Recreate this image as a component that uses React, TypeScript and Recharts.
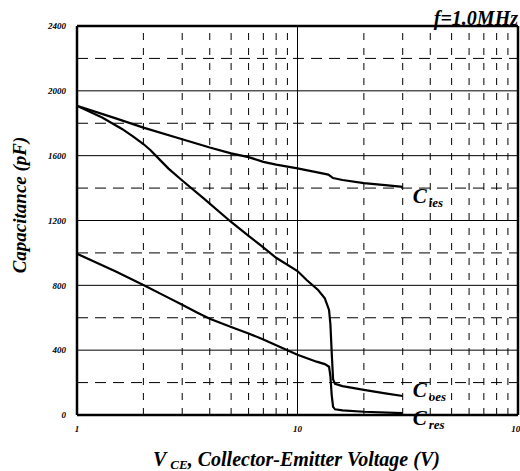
import React from "react";
import { LineChart, Line, XAxis, YAxis, ReferenceLine, ReferenceDot } from "recharts";

// capacitance vs collector-emitter voltage, f = 1.0 MHz
const ciesV = [1, 1.5, 2, 3, 4, 5, 6, 7, 8, 10, 12, 13.8, 14.5, 16, 20, 25, 30];
const ciesC = [1907, 1830, 1773, 1701, 1650, 1614, 1591, 1562, 1545, 1522, 1500, 1483, 1462, 1450, 1431, 1418, 1407];

const coesV = [1, 1.3, 1.6, 1.8, 2, 2.15, 2.3, 2.6, 3, 3.73, 5, 6, 6.77, 8, 10, 11, 12.4, 13.3, 13.9, 14.1, 14.3, 14.5, 14.8, 16, 20, 25, 30];
const coesC = [1907, 1835, 1765, 1718, 1672, 1635, 1594, 1520, 1447, 1340, 1191, 1105, 1049, 970, 888, 833, 771, 720, 648, 560, 380, 220, 192, 178, 155, 133, 117];

const cresV = [1, 1.5, 2, 2.5, 3, 3.5, 4, 5, 6, 7, 9, 10, 12.2, 13.3, 13.9, 14.1, 14.3, 14.5, 14.8, 16, 20, 30];
const cresC = [995, 885, 802, 735, 680, 633, 594, 543, 503, 466, 400, 372, 329, 314, 298, 240, 120, 50, 35, 28, 20, 12];

const xTicks = [1, 10, 100];
const yTicks = [0, 400, 800, 1200, 1600, 2000, 2400];
const xMinor = [2, 3, 4, 5, 6, 7, 8, 9, 20, 30, 40, 50, 60, 70, 80, 90];
const yMinor = [200, 600, 1000, 1400, 1800, 2200];
const yMajorInner = [400, 800, 1200, 1600, 2000];

const toPoints = (xs: number[], ys: number[]) => xs.map((x, i) => ({ x, y: ys[i] }));

const FONT = "'Liberation Serif', 'Times New Roman', serif";

const tickStyle = { fontFamily: FONT, fontSize: 9, fontWeight: 700, fontStyle: "italic", fill: "#000" };

const curveLabel = (sub: string, dx: number, dy: number) => (props: any) => {
  const { viewBox } = props;
  const x = viewBox.x + viewBox.width / 2 + dx;
  const y = viewBox.y + viewBox.height / 2 + dy;
  return (
    <text x={x} y={y} fontFamily={FONT} fontWeight={700} fontStyle="italic" fill="#000">
      <tspan fontSize={21}>C</tspan>
      <tspan fontSize={13} dx={2} dy={4}>{sub}</tspan>
    </text>
  );
};

export default function App() {
  return (
    <div style={{ position: "absolute", left: 0, top: 0, width: 520, height: 471, background: "#fff" }}>
      <LineChart width={520} height={471} margin={{ top: 26, right: 2, bottom: 36, left: 17 }}>
        <XAxis
          dataKey="x"
          type="number"
          scale="log"
          domain={[1, 100]}
          ticks={xTicks}
          allowDataOverflow
          height={20}
          tickLine={false}
          tickSize={9}
          axisLine={{ stroke: "#000", strokeWidth: 2.5 }}
          tick={tickStyle}
          interval={0}
        />
        <YAxis
          type="number"
          domain={[0, 2400]}
          ticks={yTicks}
          width={60}
          tickLine={false}
          tickSize={9}
          axisLine={{ stroke: "#000", strokeWidth: 2.5 }}
          tick={tickStyle}
          interval={0}
        />
        {yMinor.map((v) => (
          <ReferenceLine key={`ym${v}`} y={v} stroke="#000" strokeWidth={1} strokeDasharray="11 7" />
        ))}
        {xMinor.map((v) => (
          <ReferenceLine key={`xm${v}`} x={v} stroke="#000" strokeWidth={1} strokeDasharray="7 8" />
        ))}
        {yMajorInner.map((v) => (
          <ReferenceLine key={`yM${v}`} y={v} stroke="#000" strokeWidth={1} />
        ))}
        <ReferenceLine x={10} stroke="#000" strokeWidth={1} />
        <ReferenceLine y={2400} stroke="#000" strokeWidth={2.5} />
        <ReferenceLine x={100} stroke="#000" strokeWidth={2.5} />
        <Line data={toPoints(ciesV, ciesC)} dataKey="y" type="linear" stroke="#000" strokeWidth={2.2} dot={false} isAnimationActive={false} />
        <Line data={toPoints(coesV, coesC)} dataKey="y" type="linear" stroke="#000" strokeWidth={2.2} dot={false} isAnimationActive={false} />
        <Line data={toPoints(cresV, cresC)} dataKey="y" type="linear" stroke="#000" strokeWidth={2.2} dot={false} isAnimationActive={false} />
        <ReferenceDot x={30} y={1407} r={0} stroke="none" label={curveLabel("ies", 10, 16)} />
        <ReferenceDot x={30} y={117} r={0} stroke="none" label={curveLabel("oes", 10, 1)} />
        <ReferenceDot x={30} y={12} r={0} stroke="none" label={curveLabel("res", 10, 12)} />
      </LineChart>
      <svg width={520} height={471} style={{ position: "absolute", left: 0, top: 0, pointerEvents: "none" }}>
        <text x={518} y={25} textAnchor="end" fontFamily={FONT} fontSize={20} fontWeight={700} fontStyle="italic">
          f=1.0MHz
        </text>
        <text x={153} y={466} fontFamily={FONT} fontSize={20} fontWeight={700} fontStyle="italic">
          V<tspan fontSize={13} dx={4} dy={3}>CE</tspan>
          <tspan dy={-3}>, Collector-Emitter Voltage (V)</tspan>
        </text>
        <text
          x={26}
          y={205}
          textAnchor="middle"
          transform="rotate(-90 26 205)"
          fontFamily={FONT}
          fontSize={19}
          fontWeight={700}
          fontStyle="italic"
        >
          Capacitance (pF)
        </text>
      </svg>
    </div>
  );
}
